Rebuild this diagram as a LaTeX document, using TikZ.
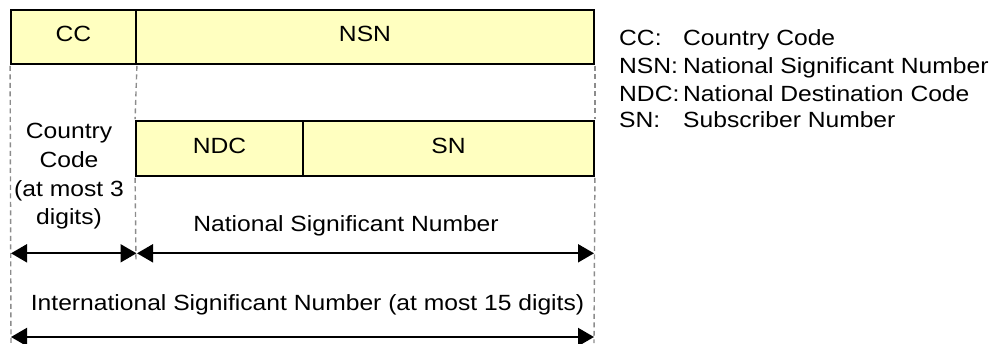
\documentclass[tikz,border=0pt]{standalone}
\usepackage{fontspec}
\setmainfont{Liberation Sans}[FakeStretch=1.12]
\usetikzlibrary{arrows.meta}
\definecolor{boxfill}{RGB}{255,255,192}
\definecolor{dashgray}{RGB}{140,140,140}
\begin{document}
\begin{tikzpicture}[x=1pt,y=-1pt,
  fieldbox/.style={draw=black,line width=1.8pt,fill=boxfill,rectangle,inner sep=0pt,
    text height=16pt,text depth=6.6pt,font=\fontsize{22}{26}\selectfont},
  guide/.style={draw=dashgray,line width=1.4pt,dash pattern=on 5pt off 3.5pt},
  span/.style={line width=2pt,{Triangle[length=16pt,width=18pt]}-{Triangle[length=16pt,width=18pt]}},
  lbl/.style={inner sep=0pt,font=\fontsize{22}{28.7}\selectfont}]
\useasboundingbox (0,0) rectangle (994,343);
% guide line ends
\coordinate (gl) at (11,343);
\coordinate (gm) at (136,262);
\coordinate (gr) at (594,343);
% field boxes
\node[fieldbox,minimum width=125pt,minimum height=54pt] (cc) at (73.5,37) {CC};
\node[fieldbox,minimum width=458pt,minimum height=54pt] (nsn) at (365,37) {NSN};
\node[fieldbox,minimum width=167pt,minimum height=55pt] (ndc) at (219.5,148.5) {NDC};
\node[fieldbox,minimum width=291pt,minimum height=55pt] (sn) at (448.5,148.5) {SN};
\draw[guide] ([yshift=-1pt]cc.south west) -- (gl);
\draw[guide] ([yshift=-1pt]cc.south east) -- ([yshift=1pt]ndc.north west);
\draw[guide] ([yshift=-1pt]ndc.south west) -- (gm);
\draw[guide] ([yshift=-1pt]nsn.south east) -- ([yshift=1pt]sn.north east);
\draw[guide] ([yshift=-1pt]sn.south east) -- (gr);
% labels
\node[lbl,align=center,anchor=north] (cctext) at (69,123.3) {Country\\Code\\(at most 3\\digits)};
\node[lbl,anchor=base] (nsntext) at (346,231.7) {National Significant Number};
\node[lbl,anchor=base] (isntext) at (307.5,310) {International Significant Number (at most 15 digits)};
% span arrows
\coordinate (a1) at (11,253.3);
\coordinate (a2) at (136.5,253.3);
\coordinate (a3) at (137,253.3);
\coordinate (a4) at (594,253.3);
\coordinate (b1) at (11,337);
\coordinate (b2) at (594,337);
\draw[span] (a1) -- (a2);
\draw[span] (a3) -- (a4);
\draw[span] (b1) -- (b2);
% legend
\node[lbl,anchor=base west] (k1) at (619,45.7) {CC:};
\node[lbl,anchor=base west] (v1) at (683,45.7) {Country Code};
\node[lbl,anchor=base west] (k2) at (619,73.3) {NSN:};
\node[lbl,anchor=base west] (v2) at (683,73.3) {National Significant Number};
\node[lbl,anchor=base west] (k3) at (619,101) {NDC:};
\node[lbl,anchor=base west] (v3) at (683,101) {National Destination Code};
\node[lbl,anchor=base west] (k4) at (619,127.7) {SN:};
\node[lbl,anchor=base west] (v4) at (683,127.7) {Subscriber Number};
\end{tikzpicture}
\end{document}
